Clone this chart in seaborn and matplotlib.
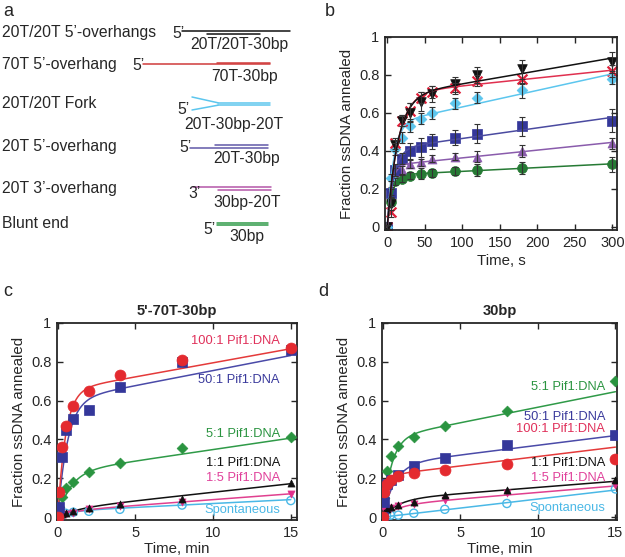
import numpy as np
import matplotlib
matplotlib.use("Agg")
import matplotlib.pyplot as plt
import seaborn as sns

# ---------------- panel a: substrate schematics ----------------
a_labels = ["20T/20T 5’-overhangs", "70T 5’-overhang", "20T/20T Fork",
            "20T 5’-overhang", "20T 3’-overhang", "Blunt end"]
a_names = ["20T/20T-30bp", "70T-30bp", "20T-30bp-20T", "20T-30bp", "30bp-20T", "30bp"]
a_colors = ["#111111", "#d03a3a", "#5cc6ee", "#6158a8", "#b456a8", "#2f9a48"]
a_end_mark = ["5’", "5’", "5’", "5’", "3’", "5’"]
# strand extents (schematic units): long strand start/end, short strand start/end
a_long = [(182, 290), (143, 270), (192, 270), (190, 268), (193, 271), (217, 268)]
a_short = [(207, 260), (217, 270), (218, 270), (215, 268), (218, 271), (217, 268)]

# ---------------- panel b: substrates, time in s ----------------
b_time = [0, 5, 10, 20, 30, 45, 60, 90, 120, 180, 300]
b_20t20t = [0, 0.12, 0.43, 0.56, 0.60, 0.66, 0.70, 0.75, 0.80, 0.83, 0.87]
b_70t = [0, 0.08, 0.44, 0.56, 0.61, 0.68, 0.71, 0.73, 0.77, 0.78, 0.82]
b_fork = [0, 0.26, 0.41, 0.47, 0.53, 0.57, 0.60, 0.65, 0.68, 0.72, 0.78]
b_5p = [0, 0.18, 0.30, 0.36, 0.40, 0.42, 0.45, 0.47, 0.49, 0.53, 0.56]
b_3p = [0, 0.19, 0.29, 0.30, 0.33, 0.34, 0.36, 0.37, 0.37, 0.40, 0.44]
b_blunt = [0, 0.13, 0.24, 0.255, 0.27, 0.28, 0.285, 0.295, 0.30, 0.31, 0.33]
b_err_20t20t = [0.01, 0.03, 0.03, 0.03, 0.05, 0.05, 0.04, 0.04, 0.04, 0.05, 0.05]
b_err_70t = [0.01, 0.03, 0.03, 0.03, 0.04, 0.03, 0.03, 0.03, 0.03, 0.03, 0.03]
b_err_fork = [0.01, 0.02, 0.03, 0.03, 0.03, 0.03, 0.03, 0.03, 0.03, 0.04, 0.03]
b_err_5p = [0.01, 0.02, 0.03, 0.03, 0.04, 0.05, 0.04, 0.04, 0.05, 0.05, 0.06]
b_err_3p = [0.01, 0.02, 0.02, 0.02, 0.02, 0.02, 0.02, 0.02, 0.03, 0.03, 0.03]
b_err_blunt = [0.01, 0.02, 0.02, 0.02, 0.02, 0.03, 0.02, 0.02, 0.03, 0.03, 0.04]

# ---------------- panels c, d: Pif1:DNA ratios, time in min ----------------
cd_time = [0, 0.083, 0.25, 0.5, 1, 2, 4, 8, 15]
ratio_labels = ["100:1 Pif1:DNA", "50:1 Pif1:DNA", "5:1 Pif1:DNA",
                "1:1 Pif1:DNA", "1:5 Pif1:DNA", "Spontaneous"]
c_100 = [0, 0.13, 0.36, 0.47, 0.57, 0.65, 0.73, 0.81, 0.87]
c_50 = [0, 0.05, 0.31, 0.45, 0.505, 0.55, 0.67, 0.80, 0.86]
c_5 = [0, 0.05, 0.105, 0.148, 0.18, 0.23, 0.28, 0.355, 0.415]
c_1 = [0, 0.01, 0.015, 0.02, 0.03, 0.045, 0.07, 0.095, 0.175]
c_1_5 = [0, 0.01, 0.012, 0.018, 0.02, 0.04, 0.055, 0.08, 0.12]
c_spont = [0, 0.005, 0.01, 0.02, 0.025, 0.03, 0.04, 0.062, 0.085]

d_100 = [0, 0.13, 0.17, 0.19, 0.21, 0.225, 0.245, 0.275, 0.30]
d_50 = [0, 0.08, 0.17, 0.19, 0.215, 0.265, 0.305, 0.37, 0.425]
d_5 = [0, 0.10, 0.235, 0.315, 0.365, 0.415, 0.47, 0.545, 0.70]
d_1 = [0, 0.02, 0.04, 0.05, 0.06, 0.08, 0.115, 0.14, 0.19]
d_1_5 = [0, 0.04, 0.035, 0.045, 0.055, 0.07, 0.09, 0.125, 0.165]
d_spont = [0, 0.0, 0.005, 0.01, 0.01, 0.02, 0.04, 0.07, 0.145]

# fitted burst + linear curves as published (amplitude, rate 1/min, slope 1/min)
c_fit_amp = [0.65, 0.60, 0.23, 0.04, 0.03, 0.03]
c_fit_rate = [2.0, 1.6, 1.2, 0.8, 1.0, 1.2]
c_fit_slope = [0.0145, 0.0155, 0.0118, 0.0088, 0.006, 0.004]
d_fit_amp = [0.215, 0.27, 0.406, 0.09, 0.06, 0.0]
d_fit_rate = [3.0, 1.3, 1.8, 1.0, 1.0, 1.0]
d_fit_slope = [0.0097, 0.010, 0.016, 0.0063, 0.0067, 0.0093]

RED, BLUE, GREEN = "#e42a2f", "#34379a", "#2a9440"
PINK, CYAN, PURPLE = "#e0308c", "#4ab8e6", "#8a5cac"


def fit_burst_linear(t, y, k_grid):
    """Fit y = A*(1-exp(-k t)) + m*t by grid search on k."""
    t = np.asarray(t, float)
    y = np.asarray(y, float)
    best = None
    for k in k_grid:
        X = np.column_stack([1 - np.exp(-k * t), t])
        coef = np.linalg.lstsq(X, y, rcond=None)[0]
        sse = ((X @ coef - y) ** 2).sum()
        if best is None or sse < best[0]:
            best = (sse, k, coef)
    _, k, (A, m) = best
    return lambda tt: A * (1 - np.exp(-k * tt)) + m * tt


def style_axes(ax):
    ax.tick_params(direction="in", top=True, right=True, length=4, width=1,
                   labelsize=10.5, pad=4)
    for sp in ax.spines.values():
        sp.set_linewidth(1.3)
        sp.set_visible(True)


sns.set_style("ticks")
plt.rcParams["font.family"] = ["Liberation Sans", "DejaVu Sans"]

fig = plt.figure(figsize=(6.25, 5.57), dpi=100)

# ---- panel a ----
ax_a = fig.add_axes([0, (557 - 270) / 557, 330 / 625, 270 / 557])
ax_a.set_xlim(0, 330)
ax_a.set_ylim(270, 0)
ax_a.axis("off")
row_y = [32, 65, 104, 147, 188, 224]
long_dy = [-0.6, -0.8, 0.0, 1.2, -0.6, -1.3]
short_dy = [1.8, -2.4, 0.0, -1.6, 2.4, 1.3]
name_dy = [13, 11, 20, 11, 15, 13]
mark_pos = [(-10, 1), (-11, 0), (-15, 6), (-11, 1), (-5, 6), (-14, 6)]
for i, lab in enumerate(a_labels):
    y = row_y[i]
    col = a_colors[i]
    ax_a.text(2, y, lab, fontsize=11.3, va="center", ha="left")
    if i == 2:  # fork
        x0, x1 = a_long[i]
        xs = a_short[i][0]
        ax_a.plot([x0, xs], [y - 7, y - 1.2], color=col, lw=1.1)
        ax_a.plot([x0, xs], [y + 6, y + 1.2], color=col, lw=1.1)
        ax_a.plot([xs, x1], [y - 1.2, y - 1.2], color=col, lw=1.1)
        ax_a.plot([xs, x1], [y + 1.2, y + 1.2], color=col, lw=1.1)
    else:
        ax_a.plot(a_long[i], [y + long_dy[i]] * 2, color=col, lw=1.1)
        ax_a.plot(a_short[i], [y + short_dy[i]] * 2, color=col, lw=1.1)
    mx, my = mark_pos[i]
    ax_a.text(a_long[i][0] + mx, y + my, a_end_mark[i], fontsize=11.3, va="center")
    name_x = [239, 245, 234, 247, 247, 247][i]
    ax_a.text(name_x, y + name_dy[i], a_names[i], fontsize=11.3, ha="center", va="center")

# ---- panel b ----
ax_b = fig.add_axes([385 / 625, (557 - 230) / 557, 232 / 625, 193 / 557])
b_series = [
    (b_20t20t, b_err_20t20t, "#111111", "v", 48, "#111111"),
    (b_70t, b_err_70t, "#e0203a", "x", 50, "#e0304f"),
    (b_fork, b_err_fork, "#5cc6ee", "D", 30, "#5cc6ee"),
    (b_5p, b_err_5p, BLUE, "s", 50, "#4a4aa0"),
    (b_3p, b_err_3p, PURPLE, "^", 42, "#8a5cac"),
    (b_blunt, b_err_blunt, "#267a34", "o", 50, "#267a34"),
]
t_fine_b = np.linspace(0, 300, 600)
for vals, errs, col, mk, sz, lcol in b_series[::-1]:
    f = fit_burst_linear(b_time, vals, np.logspace(-3, 1, 400))
    sns.lineplot(x=t_fine_b, y=f(t_fine_b), ax=ax_b, color=lcol, lw=1.1)
    ax_b.errorbar(b_time, vals, yerr=errs, fmt="none", ecolor="#333333",
                  elinewidth=0.8, capsize=2.2, capthick=0.8)
    if mk == "x":
        sns.scatterplot(x=b_time, y=vals, ax=ax_b, marker="x", s=sz, color=col,
                        linewidth=1.6)
    else:
        sns.scatterplot(x=b_time, y=vals, ax=ax_b, marker=mk, s=sz, color=col,
                        edgecolor=col, linewidth=0.5)
ax_b.set_xlim(-3, 306)
ax_b.set_ylim(-0.016, 1.0)
ax_b.set_xticks([0, 50, 100, 150, 200, 250, 300])
ax_b.set_yticks([0, 0.2, 0.4, 0.6, 0.8, 1])
ax_b.set_yticklabels(["0", "0.2", "0.4", "0.6", "0.8", "1"])
ax_b.set_xlabel("Time, s", fontsize=10.8, labelpad=3)
ax_b.set_ylabel("Fraction ssDNA annealed", fontsize=10.8, labelpad=4)
style_axes(ax_b)


def ratio_panel(ax, series, amps, rates, slopes, title, label_pos):
    t_fine = np.linspace(0, 15, 600)
    styles = [
        (RED, "o", 62, RED, "#e43a3a"),
        (BLUE, "s", 62, BLUE, "#4a4aa8"),
        (GREEN, "D", 30, GREEN, "#2f9a48"),
        ("#111111", "^", 26, "#111111", "#111111"),
        (PINK, "v", 26, PINK, "#e0408f"),
        (CYAN, "o", 34, "none", "#4ab8e6"),
    ]
    rows = list(zip(series, amps, rates, slopes, styles))
    for vals, A, k, m, (col, mk, sz, face, lcol) in rows[::-1]:
        curve = A * (1 - np.exp(-k * t_fine)) + m * t_fine
        sns.lineplot(x=t_fine, y=curve, ax=ax, color=lcol, lw=1.1)
        if face == "none":
            ax.scatter(cd_time, vals, marker=mk, s=sz, facecolors="none",
                       edgecolors=col, linewidths=1.0, zorder=3)
        else:
            sns.scatterplot(x=cd_time, y=vals, ax=ax, marker=mk, s=sz, color=col,
                            edgecolor=col, linewidth=0.5, zorder=3)
    text_cols = ["#e0305a", "#3a3a9c", GREEN, "#111111", "#e0409a", "#4ab8e6"]
    for lab, (x, y), tc in zip(ratio_labels, label_pos, text_cols):
        ax.text(x, y, lab, color=tc, fontsize=9.3, ha="right", va="center")
    ax.set_title(title, fontsize=10.5, fontweight="bold", pad=6)
    ax.set_yticks([0, 0.2, 0.4, 0.6, 0.8, 1])
    ax.set_yticklabels(["0", "0.2", "0.4", "0.6", "0.8", "1"])
    ax.set_xticks([0, 5, 10, 15])
    ax.set_xlabel("Time, min", fontsize=10.8, labelpad=2)
    ax.set_ylabel("Fraction ssDNA annealed", fontsize=10.8, labelpad=4)
    ax.set_ylim(-0.015, 1.0)
    style_axes(ax)


ax_c = fig.add_axes([57 / 625, (557 - 520) / 557, 240 / 625, 197 / 557])
ratio_panel(ax_c, [c_100, c_50, c_5, c_1, c_1_5, c_spont],
            c_fit_amp, c_fit_rate, c_fit_slope, "5'-70T-30bp",
            [(14.3, 0.905), (14.3, 0.708), (14.3, 0.43), (14.3, 0.278),
             (14.3, 0.20), (14.3, 0.038)])
ax_c.set_xlim(-0.05, 15.4)

ax_d = fig.add_axes([382 / 625, (557 - 520) / 557, 235 / 625, 197 / 557])
ratio_panel(ax_d, [d_100, d_50, d_5, d_1, d_1_5, d_spont],
            d_fit_amp, d_fit_rate, d_fit_slope, "30bp",
            [(14.35, 0.452), (14.35, 0.517), (14.35, 0.672), (14.35, 0.279),
             (14.35, 0.20), (14.35, 0.047)])
ax_d.set_xlim(-0.05, 15.1)

for lab, x, y in [("a", 3, 11), ("b", 325, 11), ("c", 3, 291), ("d", 318, 291)]:
    fig.text(x / 625, 1 - y / 557, lab, fontsize=13, ha="left", va="center")

fig.savefig("out.png", dpi=100)
